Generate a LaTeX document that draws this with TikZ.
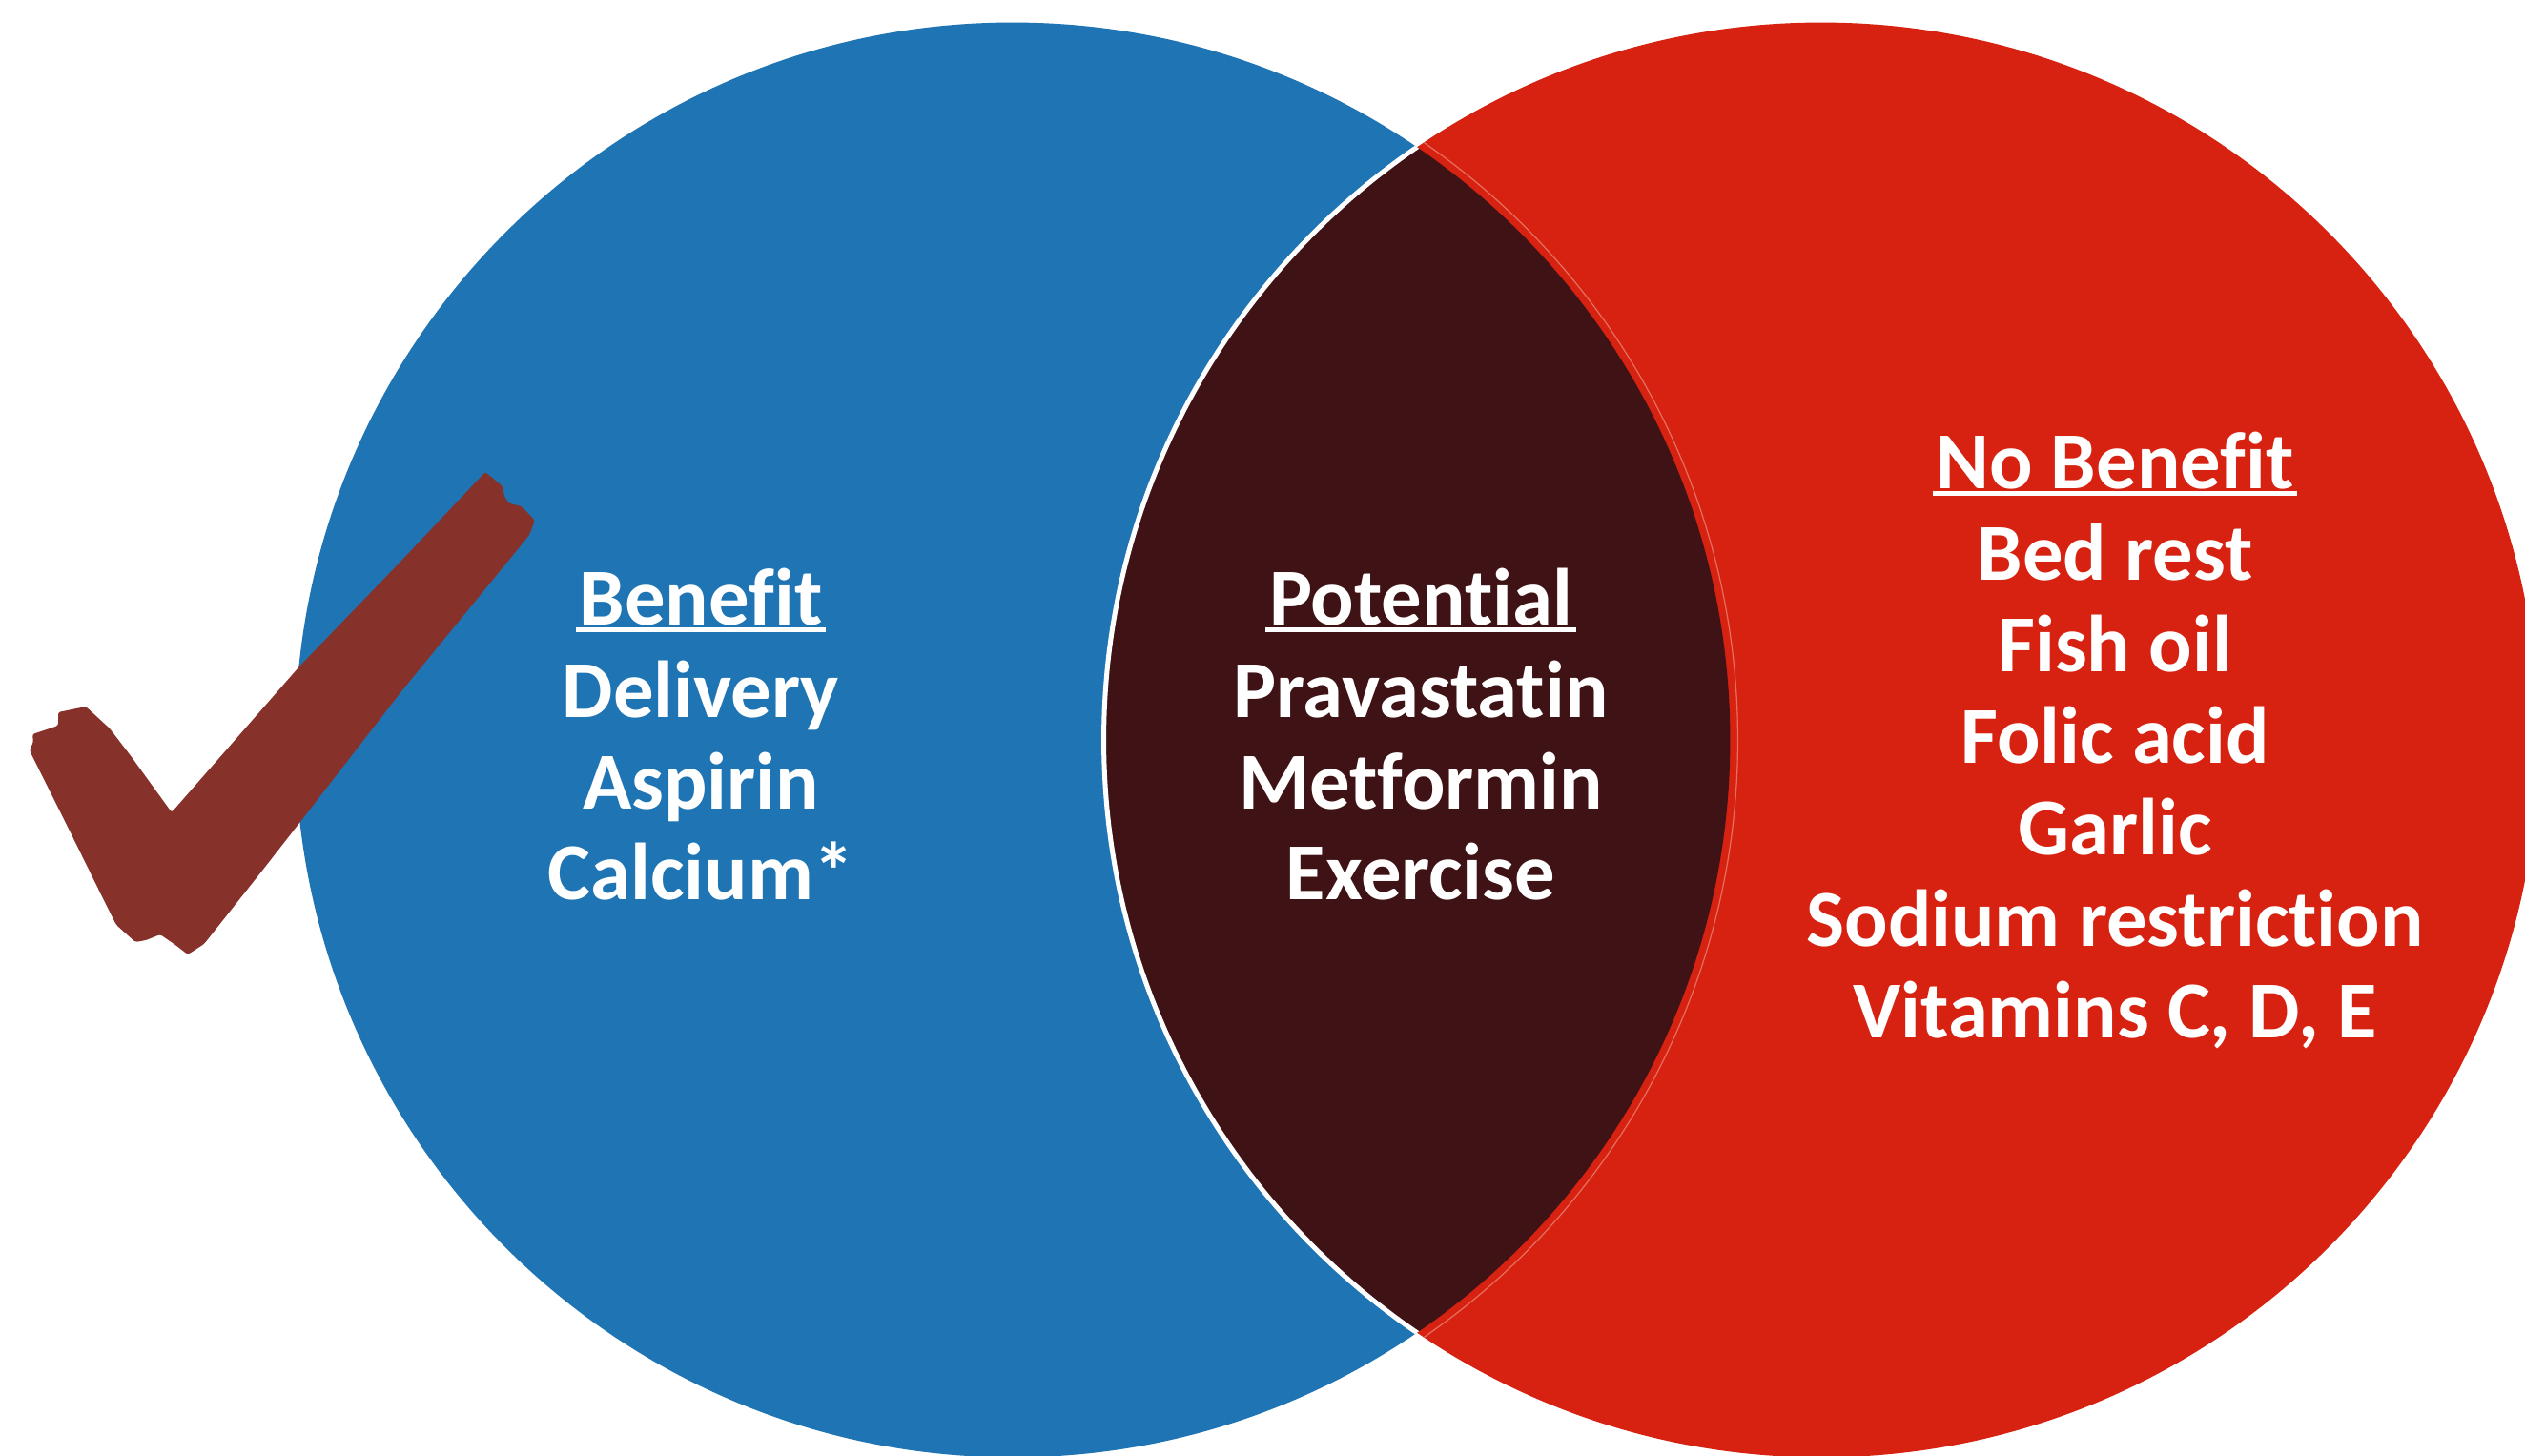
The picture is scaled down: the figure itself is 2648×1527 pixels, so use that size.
\documentclass[tikz,border=0pt]{standalone}
\usepackage{fontspec}
\setmainfont{Carlito}[Ligatures=NoCommon]
\definecolor{benefitblue}{HTML}{1F74B4}
\definecolor{nobenefitred}{HTML}{D72211}
\definecolor{overlapdark}{HTML}{3F1315}
\definecolor{tickred}{HTML}{87312B}
\definecolor{seamred}{HTML}{E5705F}
\tikzset{
  lbl/.style={text=white, font=\fontsize{24.1}{27.3}\selectfont\bfseries,
    inner sep=0pt, anchor=base},
  ul/.style={draw=white, line width=0.045cm},
}
\begin{document}
\begin{tikzpicture}[x=0.01cm,y=-0.01cm]
\useasboundingbox (0,0) rectangle (2648,1527);
\fill[white] (0,0) rectangle (2648,1527);
% circle centres
\coordinate (bc) at (1062,776);
\coordinate (rc) at (1910,776);
% the two sets
\fill[benefitblue] (bc) circle[radius=7.52cm];
\fill[nobenefitred] (rc) circle[radius=7.52cm];
% overlap region with its faint seam
\begin{scope}
  \clip (rc) circle[radius=7.52cm];
  \fill[overlapdark] (bc) circle[radius=7.52cm];
  \draw[seamred, line width=0.012cm] (bc) circle[radius=7.60cm];
\end{scope}
% white edge on the left side of the overlap
\begin{scope}
  \clip (bc) circle[radius=7.52cm];
  \draw[white, line width=0.05cm] (rc) circle[radius=7.52cm];
\end{scope}
% hand-drawn tick
\fill[tickred, rounded corners=0.025cm]
  (509,495) -- (527,510) -- (529,521) -- (534,528) -- (547,531)
  -- (561,546) -- (555,561) -- (543,576) -- (421,725) -- (314,863)
  -- (275,913) -- (214,990) -- (197,1001) -- (184,991) -- (168,980)
  -- (153,986) -- (142,988) -- (122,970) -- (103,932) -- (69,863)
  -- (31,787) -- (35,778) -- (34,770) -- (61,761) -- (61,747)
  -- (90,741) -- (115,764) -- (138,794) -- (180,852) -- (314,699)
  -- (421,588) -- cycle;
% left set
\node[lbl] (b0) at (735,655) {Benefit};
\node[lbl] (b1) at (735,752) {Delivery};
\node[lbl] (b2) at (735,848) {Aspirin};
\node[lbl] (b3) at (735,943) {Calcium*};
% overlap
\node[lbl] (p0) at (1490,655) {Potential};
\node[lbl] (p1) at (1490,752) {Pravastatin};
\node[lbl] (p2) at (1490,848) {Metformin};
\node[lbl] (p3) at (1490,943) {Exercise};
% right set
\node[lbl] (n0) at (2218,512) {No Benefit};
\node[lbl] (n1) at (2218,608) {Bed rest};
\node[lbl] (n2) at (2218,704) {Fish oil};
\node[lbl] (n3) at (2218,800) {Folic acid};
\node[lbl] (n4) at (2218,896) {Garlic};
\node[lbl] (n5) at (2218,992) {Sodium restriction};
\node[lbl] (n6) at (2218,1088) {Vitamins C, D, E};
% heading underlines
\foreach \h in {b0,p0,n0}
  \draw[ul] ([xshift=-0.03cm,yshift=-0.055cm]\h.base west)
         -- ([xshift=0.03cm,yshift=-0.055cm]\h.base east);
\end{tikzpicture}
\end{document}
